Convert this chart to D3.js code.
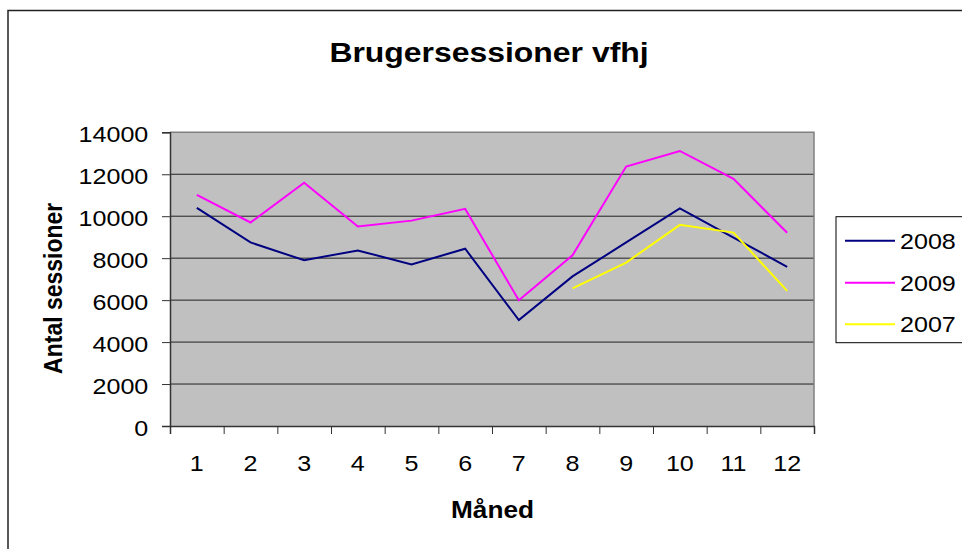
<!DOCTYPE html>
<html>
<head>
<meta charset="utf-8">
<script src="https://cdn.jsdelivr.net/npm/d3@7"></script>
<style>
  html, body { margin: 0; padding: 0; background: #fff; }
  svg { display: block; font-family: "Liberation Sans", Arial, sans-serif; }
</style>
</head>
<body>
<svg id="chart" width="962" height="549"></svg>
<script>
const months = [1, 2, 3, 4, 5, 6, 7, 8, 9, 10, 11, 12];
const s2008 = [10400, 8750, 7900, 8370, 7700, 8450, 5050, 7130, 8750, 10370, 8980, 7590];
const s2009 = [11020, 9700, 11600, 9510, 9790, 10350, 5990, 8140, 12370, 13110, 11780, 9210];
const s2007 = [null, null, null, null, null, null, null, 6560, 7790, 9590, 9220, 6440];
const yTicks = [0, 2000, 4000, 6000, 8000, 10000, 12000, 14000];
const seriesNames = ["2008", "2009", "2007"];
const seriesColors = ["#000080", "#ff00ff", "#ffff00"];
const seriesData = [s2008, s2009, s2007];
const titleText = "Brugersessioner vfhj";
const yTitle = "Antal sessioner";
const xTitle = "Måned";

const SX = 1.14; // horizontal stretch of text as in reference
const svg = d3.select("#chart");
const L = 170, R = 814, T = 132.3, B = 426;

// outer chart border
svg.append("rect").attr("x", 8).attr("y", 10.5).attr("width", 1000).attr("height", 1000)
  .attr("fill", "#fff").attr("stroke", "#222").attr("stroke-width", 1.5);

const x = d3.scaleBand().domain(months).range([L, R]).padding(0);
const xl = d3.scaleLinear().domain([0, months.length]).range([L, R]);
const y = d3.scaleLinear().domain([0, 14000]).range([B, T]);

// plot area
svg.append("rect").attr("x", L).attr("y", T).attr("width", R - L).attr("height", B - T)
  .attr("fill", "#c0c0c0");

// gridlines
svg.append("g").selectAll("line").data(yTicks.filter(d => d > 0 && d < 14000)).join("line")
  .attr("x1", L).attr("x2", R).attr("y1", d => y(d)).attr("y2", d => y(d))
  .attr("stroke", "#222").attr("stroke-width", 1);

// plot border top/right
svg.append("path").attr("d", `M${L},${T}H${R}V${B}`).attr("fill", "none")
  .attr("stroke", "#808080").attr("stroke-width", 1.5);

// y axis
const yAxis = svg.append("g").attr("transform", `translate(${L},0)`)
  .call(d3.axisLeft(y).tickValues(yTicks).tickSize(8).tickFormat(d3.format("d")));
yAxis.select(".domain").attr("stroke", "#333").attr("stroke-width", 1.5);
yAxis.selectAll(".tick line").attr("stroke", "#333").attr("stroke-width", 1);
yAxis.selectAll(".tick text")
  .attr("x", -21.7 / SX).attr("dy", "0.42em")
  .attr("transform", `scale(${SX},1)`)
  .attr("font-size", 22).attr("fill", "#000")
  .attr("font-family", "'Liberation Sans', Arial, sans-serif");

// x axis line + boundary ticks
const xTickAxis = svg.append("g").attr("transform", `translate(0,${B})`)
  .call(d3.axisBottom(xl).tickValues(d3.range(0, months.length + 1)).tickSize(8).tickFormat(""));
xTickAxis.select(".domain").attr("stroke", "#333").attr("stroke-width", 1.5);
xTickAxis.selectAll(".tick line").attr("stroke", "#333").attr("stroke-width", 1);

// x labels
const xAxis = svg.append("g").attr("transform", `translate(0,${B})`)
  .call(d3.axisBottom(x).tickSize(0).tickPadding(0));
xAxis.select(".domain").remove();
xAxis.selectAll(".tick text")
  .attr("y", 45).attr("dy", 0)
  .attr("transform", `scale(${SX},1)`)
  .attr("x", function(d) { return 0; })
  .attr("font-size", 22).attr("fill", "#000")
  .attr("font-family", "'Liberation Sans', Arial, sans-serif");
// compensate: tick groups are translated; scale applies inside tick group around its origin so centered text stays centered

// lines
const line = d3.line()
  .defined(d => d.v != null)
  .x(d => x(d.m) + x.bandwidth() / 2)
  .y(d => y(d.v));
seriesData.forEach((arr, i) => {
  svg.append("path")
    .datum(months.map((m, j) => ({ m: m, v: arr[j] })))
    .attr("d", line)
    .attr("fill", "none")
    .attr("stroke", seriesColors[i])
    .attr("stroke-width", 2)
    .attr("stroke-linejoin", "miter");
});

function stretchedText(txt, tx, ty, size, weight, anchor, rot) {
  return svg.append("text")
    .attr("transform", `translate(${tx},${ty}) scale(${SX},1)` + (rot ? ` rotate(${rot})` : ""))
    .attr("text-anchor", anchor)
    .attr("font-size", size)
    .attr("font-weight", weight)
    .attr("fill", "#000")
    .text(txt);
}

// titles
stretchedText(titleText, 489, 61.5, 28, "bold", "middle");
stretchedText(xTitle, 492.5, 518, 23, "bold", "middle");
stretchedText(yTitle, 61.5, 288.3, 23, "bold", "middle", -90);

// legend
const lg = svg.append("g");
lg.append("rect").attr("x", 836).attr("y", 216.7).attr("width", 130).attr("height", 126)
  .attr("fill", "#fff").attr("stroke", "#000").attr("stroke-width", 1);
const legendY = [240.7, 282.7, 324.3];
seriesNames.forEach((n, i) => {
  lg.append("line").attr("x1", 845).attr("x2", 895)
    .attr("y1", legendY[i]).attr("y2", legendY[i])
    .attr("stroke", seriesColors[i]).attr("stroke-width", 2);
  stretchedText(n, 900, legendY[i] + 8, 22, "normal", "start");
});
</script>
</body>
</html>
